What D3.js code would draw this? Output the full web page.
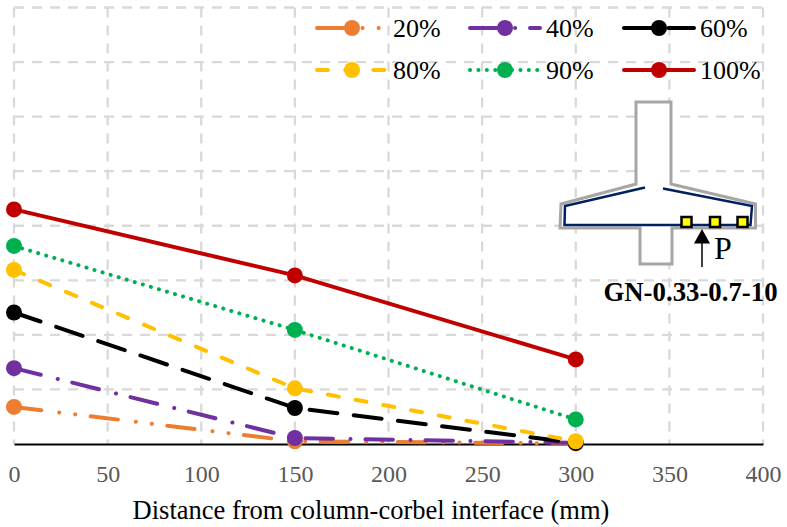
<!DOCTYPE html>
<html>
<head>
<meta charset="utf-8">
<script src="https://cdn.jsdelivr.net/npm/d3@7"></script>
<style>
  html, body { margin: 0; padding: 0; background: #fff; }
  text { font-family: "Liberation Serif", serif; }
</style>
</head>
<body>
<div id="chart"></div>
<script>
var distances = [0, 150, 300];
var xTicks = [0, 50, 100, 150, 200, 250, 300, 350, 400];
var yGrid = [1, 2, 3, 4, 5, 6, 7, 8];

var labels = ['20%', '40%', '60%', '80%', '90%', '100%'];
var values20 = [0.68, 0.05, 0.01];
var values40 = [1.39, 0.11, 0.02];
var values60 = [2.41, 0.66, 0.02];
var values80 = [3.19, 1.02, 0.05];
var values90 = [3.63, 2.09, 0.45];
var values100 = [4.30, 3.09, 1.55];
var allValues = [values20, values40, values60, values80, values90, values100];

var colors = ['#ED7D31', '#7030A0', '#000000', '#FFC000', '#00B050', '#C00000'];
var dashes = [
	'27.5 18 0.1 16 0.1 15.5',
	'27.5 17.5 0.1 14.9',
	'28 16.5',
	'11 17.2',
	'0.1 8.3',
	null
];

var width = 787, height = 527;
var x = d3.scaleLinear().domain([0, 400]).range([14, 763]);
var y = d3.scaleLinear().domain([0, 8]).range([444, 7.5]);

var svg = d3.select('#chart').append('svg')
	.attr('width', width)
	.attr('height', height)
	.style('display', 'block');

// Grid
svg.append('g').selectAll('line').data(yGrid).enter().append('line')
	.attr('x1', x(0)).attr('x2', x(400))
	.attr('y1', function (d) { return y(d); })
	.attr('y2', function (d) { return y(d); })
	.attr('stroke', '#D9D9D9').attr('stroke-width', 2.3)
	.attr('stroke-dasharray', '10 8');

svg.append('g').selectAll('line').data(xTicks).enter().append('line')
	.attr('x1', function (d) { return x(d); })
	.attr('x2', function (d) { return x(d); })
	.attr('y1', y(8)).attr('y2', y(0))
	.attr('stroke', '#D9D9D9').attr('stroke-width', 2.3)
	.attr('stroke-dasharray', '10 8');

// X axis
var axis = svg.append('g')
	.attr('transform', 'translate(0,' + y(0) + ')')
	.call(d3.axisBottom(x).tickValues(xTicks).tickSize(0).tickPadding(21));
axis.select('.domain').attr('stroke', '#000').attr('stroke-width', 2.2);
axis.selectAll('text')
	.style('font-family', '"Liberation Serif", serif')
	.style('font-size', '24px')
	.attr('fill', '#595959');

svg.append('text')
	.attr('x', 371).attr('y', 519)
	.attr('text-anchor', 'middle')
	.style('font-size', '26.5px')
	.attr('fill', '#000')
	.text('Distance from column-corbel interface (mm)');

// Series
var line = d3.line()
	.x(function (d, i) { return x(distances[i]); })
	.y(function (d) { return y(d); });

allValues.forEach(function (vals, s) {
	var g = svg.append('g');
	g.append('path')
		.attr('d', line(vals))
		.attr('fill', 'none')
		.attr('stroke', colors[s])
		.attr('stroke-width', 4)
		.attr('stroke-linecap', 'round')
		.attr('stroke-dasharray', dashes[s]);
	g.selectAll('circle').data(vals).enter().append('circle')
		.attr('cx', function (d, i) { return x(distances[i]); })
		.attr('cy', function (d) { return y(d); })
		.attr('r', 8)
		.attr('fill', colors[s]);
});

// Legend
var legendX = [317, 470, 624];
var legendY = [28, 70];
labels.forEach(function (lab, s) {
	var lx = legendX[s % 3], ly = legendY[Math.floor(s / 3)];
	var g = svg.append('g').attr('transform', 'translate(' + lx + ',' + ly + ')');
	g.append('line')
		.attr('x1', 0).attr('x2', 70)
		.attr('stroke', colors[s])
		.attr('stroke-width', 4)
		.attr('stroke-linecap', 'round')
		.attr('stroke-dasharray', dashes[s]);
	g.append('circle').attr('cx', 35).attr('r', 8).attr('fill', colors[s]);
	g.append('text')
		.attr('x', 76).attr('y', 9)
		.style('font-size', '26px')
		.attr('fill', '#000')
		.text(lab);
});

// Specimen sketch
var outline = [[636,102],[671,102],[671,184],[755.5,204],[755.5,228],[672,228],[672,264],[640,264],[640,228],[560,228],[561,204],[636,184]];
var steel = [[645,187.5],[565,206],[564.5,225],[750.5,225],[752,206],[663,188.5]];
var gauges = [686.5, 715, 742.5];
var sketch = svg.append('g');
sketch.append('path')
	.attr('d', d3.line()(outline) + 'Z')
	.attr('fill', '#fff').attr('stroke', '#A6A6A6').attr('stroke-width', 3);
sketch.append('path')
	.attr('d', d3.line()(steel))
	.attr('fill', 'none').attr('stroke', '#002060').attr('stroke-width', 2.5);
sketch.selectAll('rect').data(gauges).enter().append('rect')
	.attr('x', function (d) { return d - 5; })
	.attr('y', 217).attr('width', 10).attr('height', 10)
	.attr('fill', '#FFFF00').attr('stroke', '#000').attr('stroke-width', 2.5);
sketch.append('line')
	.attr('x1', 702).attr('x2', 702).attr('y1', 267).attr('y2', 240)
	.attr('stroke', '#000').attr('stroke-width', 1.5);
sketch.append('path')
	.attr('d', d3.line()([[702,229],[710,243.5],[694,243.5]]) + 'Z')
	.attr('fill', '#000');
sketch.append('text')
	.attr('x', 714).attr('y', 259)
	.style('font-size', '32px')
	.text('P');
sketch.append('text')
	.attr('x', 690.5).attr('y', 301)
	.attr('text-anchor', 'middle')
	.style('font-size', '26.8px').style('font-weight', 'bold')
	.text('GN-0.33-0.7-10');
</script>
</body>
</html>
